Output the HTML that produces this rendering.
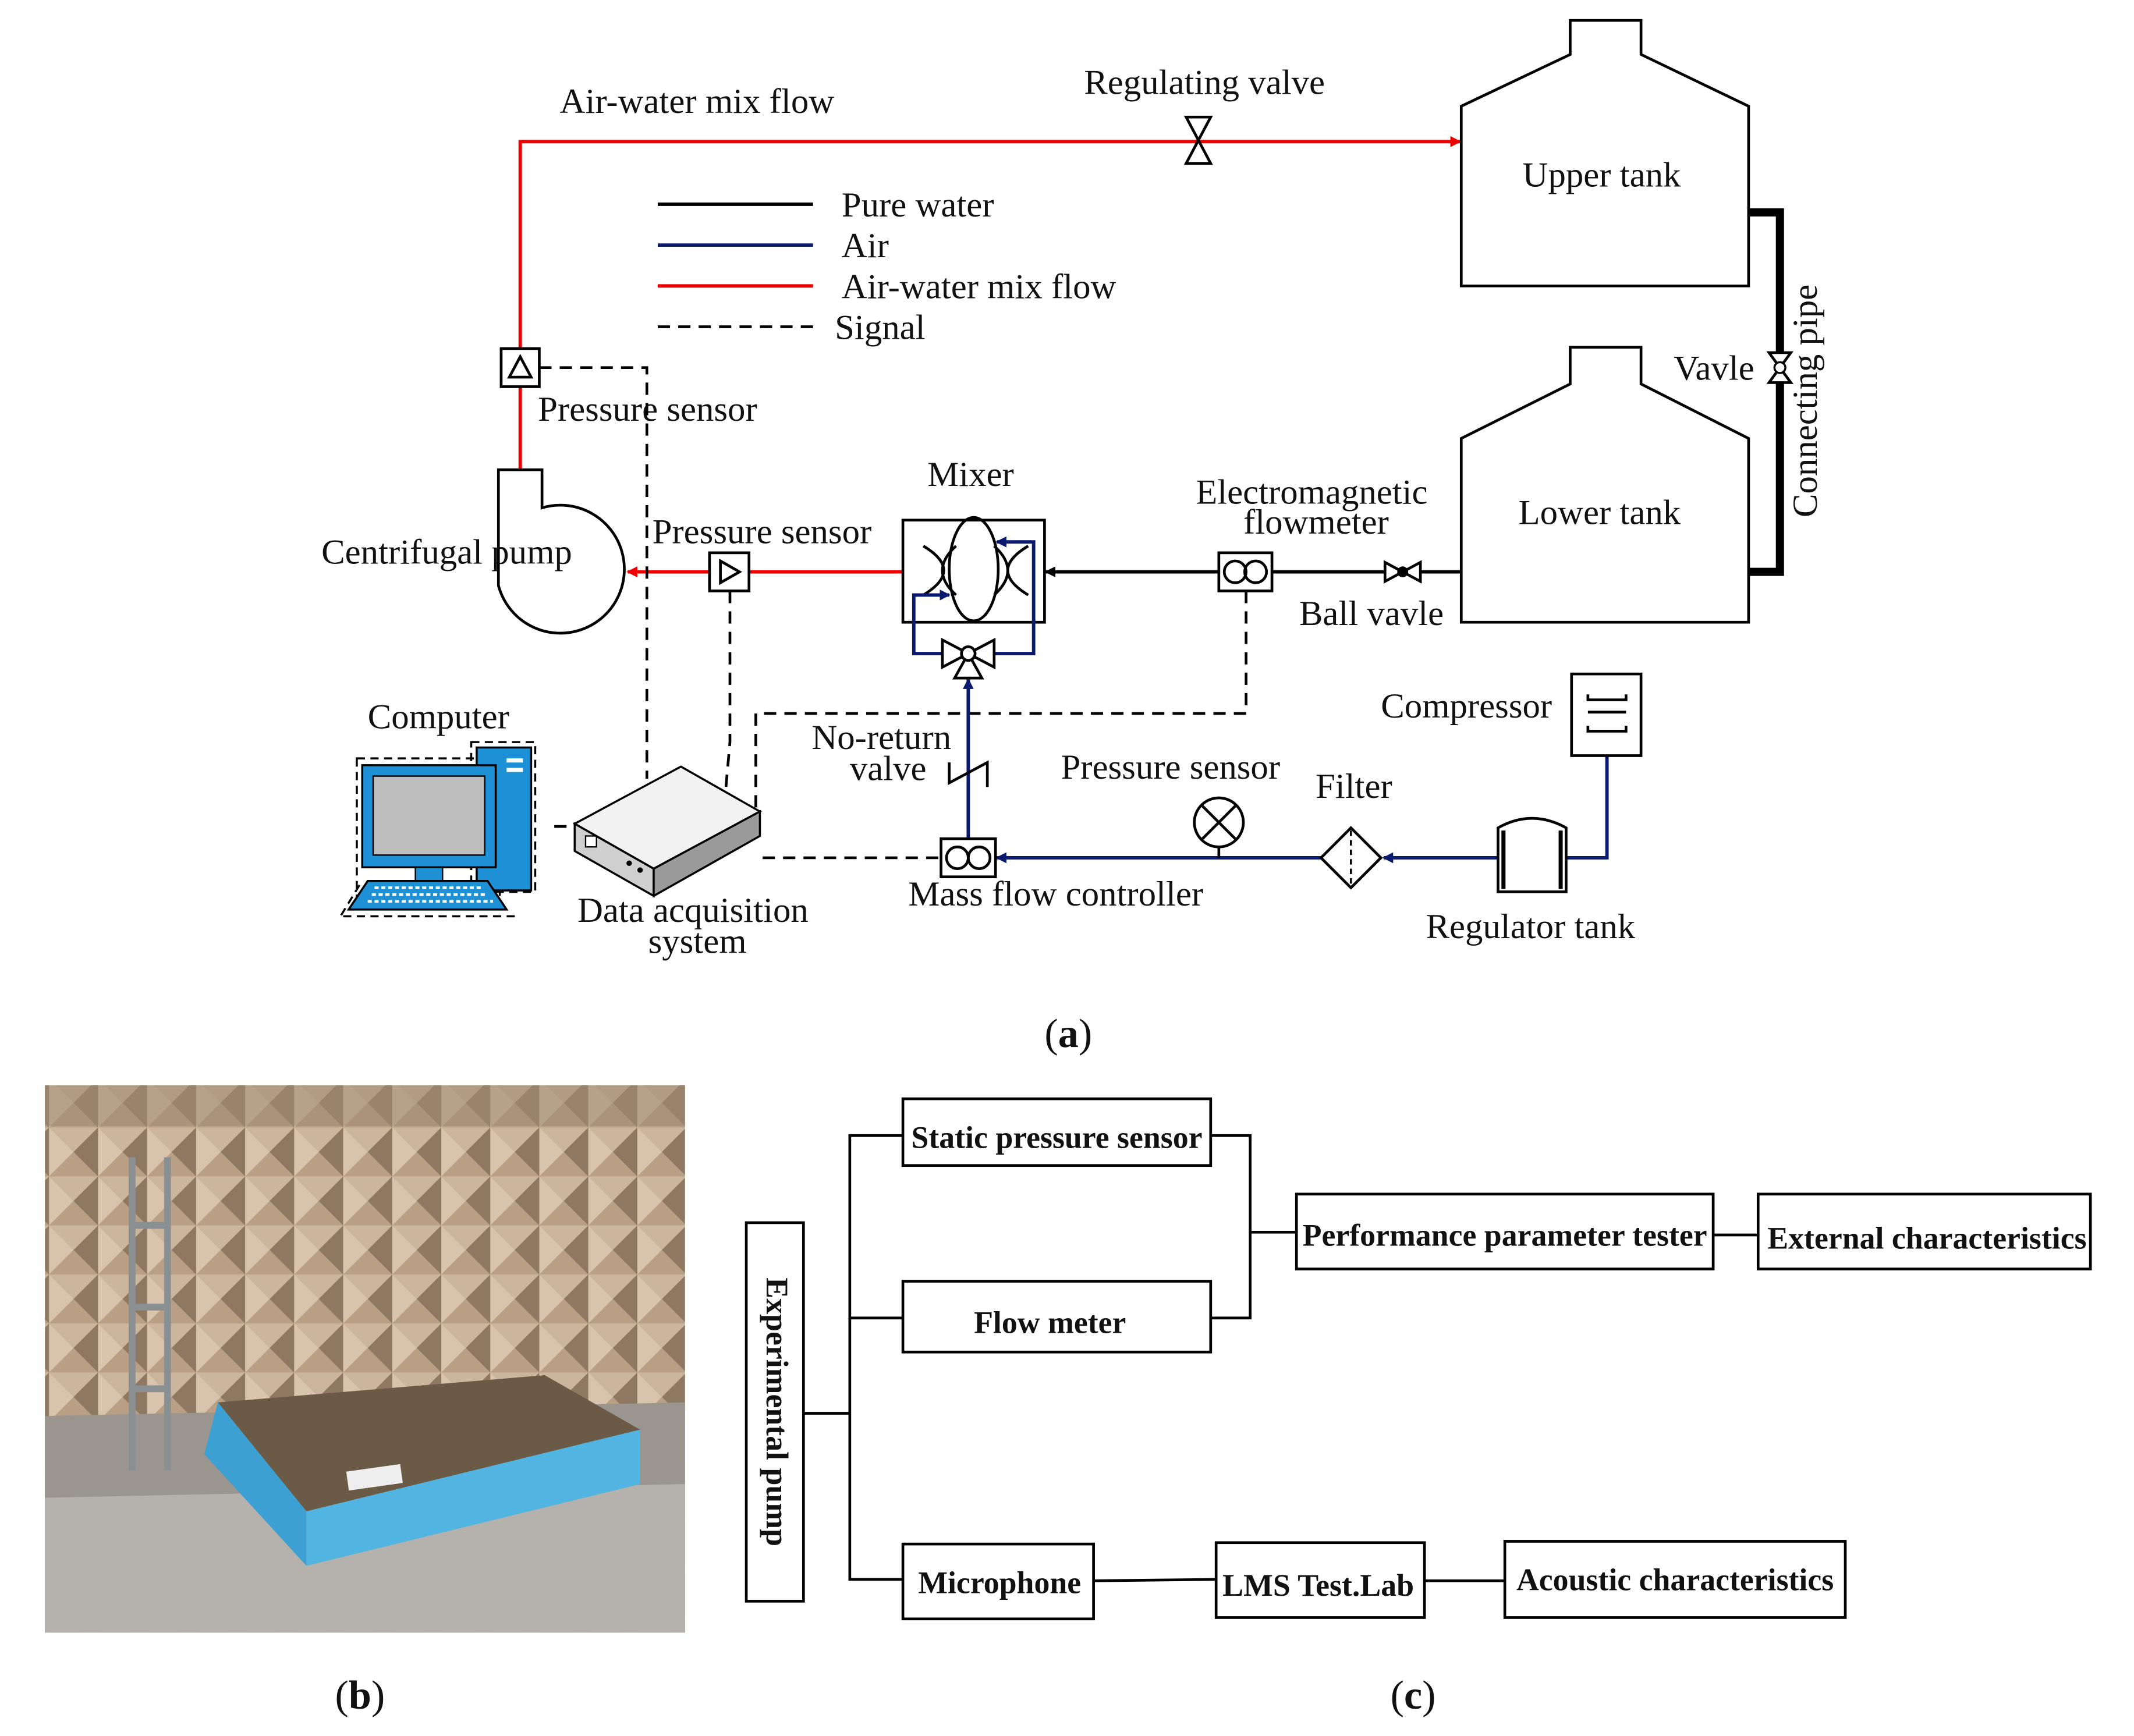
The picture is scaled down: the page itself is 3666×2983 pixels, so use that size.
<!DOCTYPE html>
<html><head><meta charset="utf-8"><style>
html,body{margin:0;padding:0;background:#fff;}
svg{display:block;}
text{font-family:"Liberation Serif",serif;fill:#111;}
</style></head><body>
<svg width="3666" height="2983" viewBox="0 0 1567 1275" preserveAspectRatio="none" xmlns="http://www.w3.org/2000/svg">
<defs>
<marker id="ar" markerWidth="8" markerHeight="8" refX="7" refY="4" orient="auto" markerUnits="userSpaceOnUse"><path d="M0,0 L8,4 L0,8 z" fill="#e00"/></marker>
<marker id="ab" markerWidth="8" markerHeight="8" refX="7" refY="4" orient="auto" markerUnits="userSpaceOnUse"><path d="M0,0 L8,4 L0,8 z" fill="#0a1a6e"/></marker>
<marker id="ak" markerWidth="8" markerHeight="8" refX="7" refY="4" orient="auto" markerUnits="userSpaceOnUse"><path d="M0,0 L8,4 L0,8 z" fill="#000"/></marker>
<pattern id="wedge" width="36" height="36" patternUnits="userSpaceOnUse">
<rect width="36" height="36" fill="#b99f84"/>
<path d="M0,0 L18,18 L0,36 z" fill="#d8c4ad"/>
<path d="M36,0 L18,18 L36,36 z" fill="#8f7862"/>
<path d="M0,0 L36,0 L18,18 z" fill="#cbb59c"/>
</pattern>
</defs>

<g stroke-width="2.5">
<line x1="483" y1="150" x2="597" y2="150" stroke="#000"/>
<line x1="483" y1="180" x2="597" y2="180" stroke="#0a1a6e"/>
<line x1="483" y1="210" x2="597" y2="210" stroke="#e00"/>
<line x1="483" y1="240" x2="597" y2="240" stroke="#000" stroke-dasharray="9,6" stroke-width="2"/>
</g>
<g font-size="26">
<text x="618" y="159">Pure water</text>
<text x="618" y="189">Air</text>
<text x="618" y="219">Air-water mix flow</text>
<text x="613" y="249">Signal</text>
</g>

<g stroke="#e00" stroke-width="2.5" fill="none">
<polyline points="382,345 382,284"/>
<polyline points="382,256 382,104 1072,104" marker-end="url(#ar)"/>
<line x1="663" y1="420" x2="550" y2="420"/>
<line x1="521" y1="420" x2="461" y2="420" marker-end="url(#ar)"/>
</g>
<path d="M871,86 L889,86 L871,120 L889,120 z" fill="#fff" stroke="#000" stroke-width="2"/>
<text x="796" y="69" font-size="26">Regulating valve</text>
<text x="411" y="83" font-size="26">Air-water mix flow</text>

<rect x="368" y="256" width="28" height="28" fill="#fff" stroke="#000" stroke-width="2"/>
<path d="M382,262 L390,277 L374,277 z" fill="none" stroke="#000" stroke-width="2"/>
<text x="395" y="309" font-size="26">Pressure sensor</text>

<path d="M366,345 L398,345 L398,373 A47,47 0 1 1 366,430 z" fill="#fff" stroke="#000" stroke-width="2"/>
<text x="236" y="414" font-size="26">Centrifugal pump</text>

<rect x="521" y="406" width="29" height="28" fill="#fff" stroke="#000" stroke-width="2"/>
<path d="M529,412 L543,420 L529,428 z" fill="none" stroke="#000" stroke-width="2"/>
<text x="479" y="399" font-size="26">Pressure sensor</text>

<rect x="663" y="382" width="104" height="75" fill="#fff" stroke="#000" stroke-width="2"/>
<path d="M678,401 Q708,419 678,437 M702,401 Q682,419 702,437 M755,401 Q725,419 755,437 M730,401 Q750,419 730,437" fill="none" stroke="#000" stroke-width="2"/>
<ellipse cx="715" cy="418" rx="18" ry="38" fill="#fff" fill-opacity="0" stroke="#000" stroke-width="2"/>
<text x="681" y="357" font-size="26">Mixer</text>
<g stroke="#0a1a6e" stroke-width="2.5" fill="none">
<polyline points="692,480 671,480 671,437 697,437" marker-end="url(#ab)"/>
<polyline points="730,480 759,480 759,398 732,398" marker-end="url(#ab)"/>
</g>
<path d="M692,470 L692,490 L711,480 z M730,470 L730,490 L711,480 z M701,498 L721,498 L711,480 z" fill="#fff" stroke="#000" stroke-width="2"/>
<circle cx="711" cy="480" r="5" fill="#fff" stroke="#000" stroke-width="2"/>

<line x1="1073" y1="420" x2="934" y2="420" stroke="#000" stroke-width="2.5"/>
<line x1="895" y1="420" x2="768" y2="420" stroke="#000" stroke-width="2.5" marker-end="url(#ak)"/>
<rect x="895" y="406" width="39" height="28" fill="#fff" stroke="#000" stroke-width="2"/>
<circle cx="907" cy="420" r="8" fill="none" stroke="#000" stroke-width="2"/>
<circle cx="922" cy="420" r="8" fill="none" stroke="#000" stroke-width="2"/>
<text x="878" y="370" font-size="26">Electromagnetic</text>
<text x="913" y="392" font-size="26">flowmeter</text>
<path d="M1017,413 L1017,427 L1043,413 L1043,427 z" fill="#fff" stroke="#000" stroke-width="2"/>
<circle cx="1030" cy="420" r="4" fill="#000"/>
<text x="954" y="459" font-size="26">Ball vavle</text>

<path d="M1073,210 L1073,78 L1153,40 L1153,15 L1205,15 L1205,40 L1284,78 L1284,210 z" fill="#fff" stroke="#000" stroke-width="2"/>
<text x="1118" y="137" font-size="26">Upper tank</text>
<path d="M1073,457 L1073,322 L1153,282 L1153,255 L1205,255 L1205,282 L1284,322 L1284,457 z" fill="#fff" stroke="#000" stroke-width="2"/>
<text x="1115" y="385" font-size="26">Lower tank</text>
<polyline points="1284,156 1307,156 1307,420 1284,420" fill="none" stroke="#000" stroke-width="6"/>
<path d="M1299,259 L1315,259 L1299,281 L1315,281 z" fill="#fff" stroke="#000" stroke-width="2"/>
<circle cx="1307" cy="270" r="4" fill="#fff" stroke="#000" stroke-width="1.5"/>
<text x="1229" y="279" font-size="26">Vavle</text>
<text font-size="26" transform="translate(1334,380) rotate(-90)">Connecting pipe</text>

<g stroke="#000" stroke-width="2" stroke-dasharray="9,6" fill="none">
<polyline points="396,270 475,270 475,572"/>
<polyline points="536,434 536,545 532,590"/>
<polyline points="915,434 915,524 555,524 555,598"/>
<polyline points="560,630 691,630"/>
<polyline points="407,607 420,607"/>
</g>

<g stroke="#0a1a6e" stroke-width="2.5" fill="none">
<polyline points="1180,527 1180,630 1150,630"/>
<line x1="1100" y1="630" x2="1016" y2="630" marker-end="url(#ab)"/>
<line x1="970" y1="630" x2="732" y2="630" marker-end="url(#ab)"/>
<line x1="711" y1="616" x2="711" y2="499" marker-end="url(#ab)"/>
</g>
<line x1="895" y1="622" x2="895" y2="630" stroke="#000" stroke-width="2"/>
<circle cx="895" cy="604" r="18" fill="#fff" stroke="#000" stroke-width="2"/>
<path d="M883,592 L907,616 M907,592 L883,616" stroke="#000" stroke-width="2"/>
<text x="779" y="572" font-size="26">Pressure sensor</text>
<path d="M992,608 L1014,630 L992,652 L970,630 z" fill="#fff" stroke="#000" stroke-width="2"/>
<line x1="992" y1="610" x2="992" y2="650" stroke="#000" stroke-width="1.5" stroke-dasharray="4,3"/>
<text x="966" y="586" font-size="26">Filter</text>
<path d="M1100,608 Q1125,594 1150,608 L1150,655 L1100,655 z" fill="#fff" stroke="#000" stroke-width="2"/>
<line x1="1104" y1="610" x2="1104" y2="653" stroke="#000" stroke-width="3"/>
<line x1="1146" y1="610" x2="1146" y2="653" stroke="#000" stroke-width="3"/>
<text x="1047" y="689" font-size="26">Regulator tank</text>
<rect x="1154" y="495" width="51" height="60" fill="#fff" stroke="#000" stroke-width="2"/>
<path d="M1166,510 L1166,514 L1194,514 L1194,510 M1166,523 L1194,523 M1166,533 L1166,537 L1194,537 L1194,533" fill="none" stroke="#000" stroke-width="2"/>
<text x="1014" y="527" font-size="26">Compressor</text>
<rect x="691" y="616" width="40" height="28" fill="#fff" stroke="#000" stroke-width="2"/>
<circle cx="703" cy="630" r="8" fill="none" stroke="#000" stroke-width="2"/>
<circle cx="719" cy="630" r="8" fill="none" stroke="#000" stroke-width="2"/>
<text x="667" y="665" font-size="26">Mass flow controller</text>
<path d="M697,560 L697,575 L725,560 L725,578" fill="none" stroke="#000" stroke-width="2"/>
<text x="596" y="550" font-size="26">No-return</text>
<text x="624" y="573" font-size="26">valve</text>

<rect x="262" y="557" width="105" height="103" fill="none" stroke="#000" stroke-width="1.5" stroke-dasharray="6,4"/>
<rect x="346" y="545" width="47" height="110" fill="none" stroke="#000" stroke-width="1.5" stroke-dasharray="6,4"/>
<rect x="350" y="549" width="40" height="105" fill="#1e90d6" stroke="#000" stroke-width="1.5"/>
<rect x="372" y="557" width="12" height="3" fill="#fff"/><rect x="372" y="564" width="12" height="3" fill="#fff"/>
<rect x="266" y="562" width="98" height="75" fill="#1e90d6" stroke="#000" stroke-width="1.5"/>
<rect x="274" y="570" width="82" height="58" fill="#bdbdbd" stroke="#000" stroke-width="1"/>
<rect x="305" y="637" width="20" height="10" fill="#1e90d6" stroke="#000" stroke-width="1"/>
<path d="M270,647 L358,647 L372,668 L256,668 z" fill="#1e90d6" stroke="#000" stroke-width="1.5"/>
<path d="M252,673 L380,673 M264,650 L250,673" stroke="#000" stroke-width="1.5" stroke-dasharray="6,4" fill="none"/>
<path d="M275,652 L355,652 M273,657 L358,657 M270,662 L362,662" stroke="#fff" stroke-width="2" stroke-dasharray="3,2"/>
<text x="270" y="535" font-size="26">Computer</text>

<path d="M422,605 L500,563 L558,596 L480,638 z" fill="#f2f2f2" stroke="#000" stroke-width="1.5"/>
<path d="M422,605 L480,638 L480,658 L422,625 z" fill="#cfcfcf" stroke="#000" stroke-width="1.5"/>
<path d="M480,638 L558,596 L558,614 L480,658 z" fill="#9a9a9a" stroke="#000" stroke-width="1.5"/>
<rect x="430" y="614" width="8" height="8" fill="#fff" stroke="#000"/>
<circle cx="462" cy="634" r="2" fill="#000"/><circle cx="470" cy="639" r="2" fill="#000"/>
<text x="424" y="677" font-size="26">Data acquisition</text>
<text x="476" y="700" font-size="26">system</text>

<text x="767" y="769" font-size="30">(<tspan font-weight="bold">a</tspan>)</text>

<rect x="33" y="797" width="470" height="402" fill="url(#wedge)"/>
<rect x="33" y="797" width="470" height="30" fill="#a08a74" opacity="0.6"/>
<path d="M33,1040 L503,1030 L503,1199 L33,1199 z" fill="#9a958f"/>
<path d="M33,1100 L503,1090 L503,1199 L33,1199 z" fill="#b5b1ac"/>
<path d="M160,1030 L400,1010 L470,1050 L225,1110 z" fill="#6b5a45"/>
<path d="M160,1030 L225,1110 L225,1150 L150,1068 z" fill="#3da0d2"/>
<path d="M225,1110 L470,1050 L470,1090 L225,1150 z" fill="#52b4e0"/>
<rect x="255" y="1078" width="40" height="14" fill="#eee" transform="rotate(-8 275 1085)"/>
<path d="M97,850 L97,1080 M123,850 L123,1080 M97,900 L123,900 M97,960 L123,960 M97,1020 L123,1020" stroke="#8a8f92" stroke-width="5"/>
<text x="246" y="1255" font-size="30">(<tspan font-weight="bold">b</tspan>)</text>

<g stroke="#000" stroke-width="2" fill="none">
<rect x="548" y="898" width="42" height="278"/>
<rect x="663" y="807" width="226" height="49"/>
<rect x="663" y="941" width="226" height="52"/>
<rect x="663" y="1134" width="140" height="55"/>
<rect x="952" y="877" width="306" height="55"/>
<rect x="1291" y="877" width="244" height="55"/>
<rect x="893" y="1133" width="153" height="55"/>
<rect x="1105" y="1132" width="250" height="56"/>
<polyline points="590,1038 624,1038"/>
<polyline points="663,834 624,834 624,1160 663,1160"/>
<polyline points="624,968 663,968"/>
<polyline points="889,834 918,834 918,968 889,968"/>
<polyline points="918,905 952,905"/>
<polyline points="1258,907 1291,907"/>
<polyline points="803,1161 893,1160"/>
<polyline points="1046,1161 1105,1161"/>
</g>
<g font-size="23" font-weight="bold">
<text x="776" y="843" text-anchor="middle">Static pressure sensor</text>
<text x="771" y="979" text-anchor="middle">Flow meter</text>
<text x="734" y="1170" text-anchor="middle">Microphone</text>
<text x="1105" y="915" text-anchor="middle">Performance parameter tester</text>
<text x="1415" y="917" text-anchor="middle">External characteristics</text>
<text x="968" y="1172" text-anchor="middle">LMS Test.Lab</text>
<text x="1230" y="1168" text-anchor="middle">Acoustic characteristics</text>
<text transform="translate(563,1037) rotate(90)" text-anchor="middle">Experimental pump</text>
</g>
<text x="1021" y="1255" font-size="30">(<tspan font-weight="bold">c</tspan>)</text>
</svg>
</body></html>
